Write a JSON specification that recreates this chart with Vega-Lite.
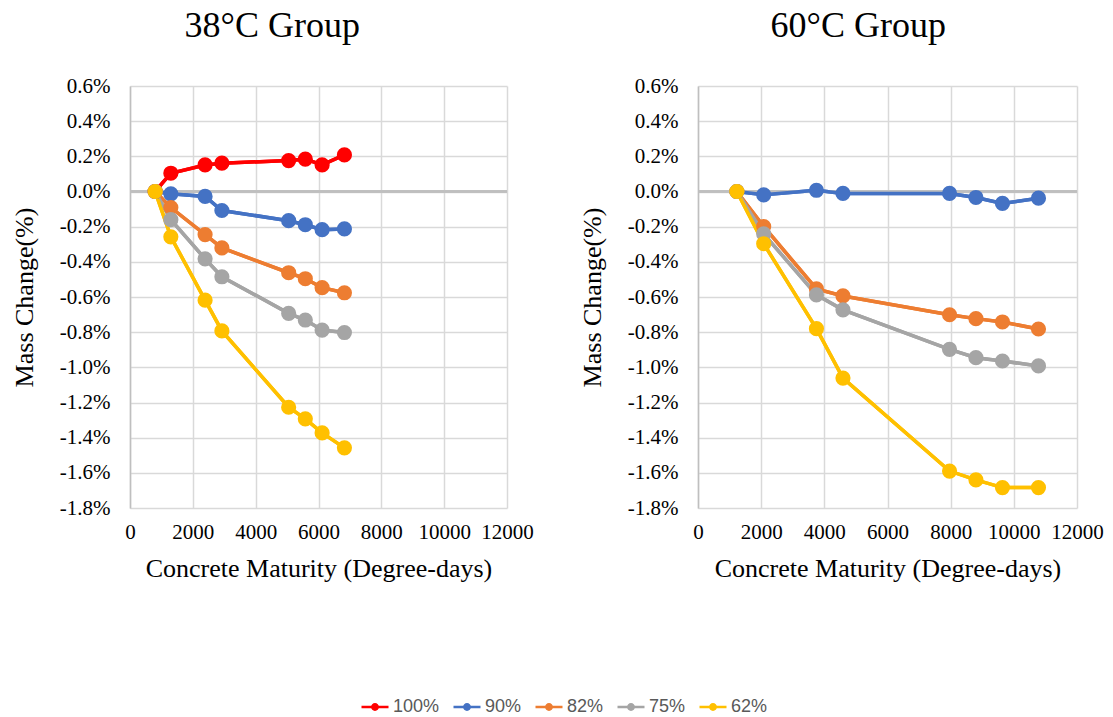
{
  "$schema": "https://vega.github.io/schema/vega-lite/v6.json",
  "padding": {"left": 11, "top": 8, "right": 0, "bottom": 0},
  "background": "white",
  "data": {
    "values": [
      {"group": "38", "series": "100%", "maturity": 800, "change": 0},
      {"group": "38", "series": "100%", "maturity": 1300, "change": 0.104},
      {"group": "38", "series": "100%", "maturity": 2390, "change": 0.151},
      {"group": "38", "series": "100%", "maturity": 2925, "change": 0.161},
      {"group": "38", "series": "100%", "maturity": 5050, "change": 0.176},
      {"group": "38", "series": "100%", "maturity": 5580, "change": 0.184},
      {"group": "38", "series": "100%", "maturity": 6115, "change": 0.151},
      {"group": "38", "series": "100%", "maturity": 6825, "change": 0.208},
      {"group": "38", "series": "90%", "maturity": 800, "change": 0},
      {"group": "38", "series": "90%", "maturity": 1300, "change": -0.013},
      {"group": "38", "series": "90%", "maturity": 2390, "change": -0.028},
      {"group": "38", "series": "90%", "maturity": 2925, "change": -0.108},
      {"group": "38", "series": "90%", "maturity": 5050, "change": -0.166},
      {"group": "38", "series": "90%", "maturity": 5580, "change": -0.189},
      {"group": "38", "series": "90%", "maturity": 6115, "change": -0.217},
      {"group": "38", "series": "90%", "maturity": 6825, "change": -0.213},
      {"group": "38", "series": "82%", "maturity": 800, "change": 0},
      {"group": "38", "series": "82%", "maturity": 1300, "change": -0.091},
      {"group": "38", "series": "82%", "maturity": 2390, "change": -0.245},
      {"group": "38", "series": "82%", "maturity": 2925, "change": -0.321},
      {"group": "38", "series": "82%", "maturity": 5050, "change": -0.462},
      {"group": "38", "series": "82%", "maturity": 5580, "change": -0.496},
      {"group": "38", "series": "82%", "maturity": 6115, "change": -0.547},
      {"group": "38", "series": "82%", "maturity": 6825, "change": -0.576},
      {"group": "38", "series": "75%", "maturity": 800, "change": 0},
      {"group": "38", "series": "75%", "maturity": 1300, "change": -0.160},
      {"group": "38", "series": "75%", "maturity": 2390, "change": -0.383},
      {"group": "38", "series": "75%", "maturity": 2925, "change": -0.485},
      {"group": "38", "series": "75%", "maturity": 5050, "change": -0.693},
      {"group": "38", "series": "75%", "maturity": 5580, "change": -0.731},
      {"group": "38", "series": "75%", "maturity": 6115, "change": -0.788},
      {"group": "38", "series": "75%", "maturity": 6825, "change": -0.802},
      {"group": "38", "series": "62%", "maturity": 800, "change": 0},
      {"group": "38", "series": "62%", "maturity": 1300, "change": -0.258},
      {"group": "38", "series": "62%", "maturity": 2390, "change": -0.618},
      {"group": "38", "series": "62%", "maturity": 2925, "change": -0.793},
      {"group": "38", "series": "62%", "maturity": 5050, "change": -1.227},
      {"group": "38", "series": "62%", "maturity": 5580, "change": -1.293},
      {"group": "38", "series": "62%", "maturity": 6115, "change": -1.373},
      {"group": "38", "series": "62%", "maturity": 6825, "change": -1.458},
      {"group": "60", "series": "90%", "maturity": 1230, "change": 0},
      {"group": "60", "series": "90%", "maturity": 2080, "change": -0.019},
      {"group": "60", "series": "90%", "maturity": 3750, "change": 0.007},
      {"group": "60", "series": "90%", "maturity": 4590, "change": -0.011},
      {"group": "60", "series": "90%", "maturity": 7965, "change": -0.011},
      {"group": "60", "series": "90%", "maturity": 8800, "change": -0.034},
      {"group": "60", "series": "90%", "maturity": 9640, "change": -0.068},
      {"group": "60", "series": "90%", "maturity": 10780, "change": -0.038},
      {"group": "60", "series": "82%", "maturity": 1230, "change": 0},
      {"group": "60", "series": "82%", "maturity": 2080, "change": -0.199},
      {"group": "60", "series": "82%", "maturity": 3750, "change": -0.554},
      {"group": "60", "series": "82%", "maturity": 4590, "change": -0.594},
      {"group": "60", "series": "82%", "maturity": 7965, "change": -0.701},
      {"group": "60", "series": "82%", "maturity": 8800, "change": -0.723},
      {"group": "60", "series": "82%", "maturity": 9640, "change": -0.742},
      {"group": "60", "series": "82%", "maturity": 10780, "change": -0.782},
      {"group": "60", "series": "75%", "maturity": 1230, "change": 0},
      {"group": "60", "series": "75%", "maturity": 2080, "change": -0.241},
      {"group": "60", "series": "75%", "maturity": 3750, "change": -0.588},
      {"group": "60", "series": "75%", "maturity": 4590, "change": -0.673},
      {"group": "60", "series": "75%", "maturity": 7965, "change": -0.898},
      {"group": "60", "series": "75%", "maturity": 8800, "change": -0.945},
      {"group": "60", "series": "75%", "maturity": 9640, "change": -0.964},
      {"group": "60", "series": "75%", "maturity": 10780, "change": -0.992},
      {"group": "60", "series": "62%", "maturity": 1230, "change": 0},
      {"group": "60", "series": "62%", "maturity": 2080, "change": -0.297},
      {"group": "60", "series": "62%", "maturity": 3750, "change": -0.780},
      {"group": "60", "series": "62%", "maturity": 4590, "change": -1.061},
      {"group": "60", "series": "62%", "maturity": 7965, "change": -1.590},
      {"group": "60", "series": "62%", "maturity": 8800, "change": -1.640},
      {"group": "60", "series": "62%", "maturity": 9640, "change": -1.684},
      {"group": "60", "series": "62%", "maturity": 10780, "change": -1.684}
    ]
  },
  "spacing": 45,
  "hconcat": [
    {
      "width": 377,
      "height": 422,
      "title": {"text": "38°C Group", "frame": "bounds", "anchor": "middle", "offset": 30, "dx": 0},
      "transform": [{"filter": "datum.group === '38'"}],
      "layer": [
        {
          "mark": {"type": "line", "strokeWidth": 3.5},
          "encoding": {
            "x": {
              "field": "maturity", "type": "quantitative",
              "scale": {"domain": [0, 12000], "nice": false, "zero": false},
              "axis": {"title": "Concrete Maturity (Degree-days)", "values": [0, 2000, 4000, 6000, 8000, 10000, 12000], "tickCount": 7, "format": "d", "labelOverlap": false, "labelFlush": false}
            },
            "y": {
              "field": "change", "type": "quantitative",
              "scale": {"domain": [-1.8, 0.6], "nice": false, "zero": false},
              "axis": {
                "title": "Mass Change(%)",
                "labelOverlap": false,
                "labelFlush": false,
                "tickCount": 13,
                "values": [-1.8, -1.6, -1.4, -1.2, -1.0, -0.8, -0.6, -0.4, -0.2, 0, 0.2, 0.4, 0.6],
                "labelExpr": "(datum.value < -0.001 ? '-' : '') + format(abs(datum.value), '.1f') + '%'"
              }
            },
            "color": {
              "field": "series", "type": "nominal",
              "scale": {"domain": ["100%", "90%", "82%", "75%", "62%"], "range": ["#FF0000", "#4472C4", "#ED7D31", "#A5A5A5", "#FFC000"]},
              "legend": {
                "orient": "none",
                "legendX": 230,
                "legendY": 606,
                "direction": "horizontal",
                "title": null,
                "padding": 0,
                "symbolType": "M-1,0L1,0M-0.2,0A0.2,0.2,0,1,1,0.2,0A0.2,0.2,0,1,1,-0.2,0Z",
                "symbolSize": 729,
                "symbolStrokeWidth": 2.5,
                "symbolOpacity": 1,
                "labelFont": "Liberation Sans",
                "labelFontSize": 18,
                "labelColor": "#595959",
                "labelOffset": 3,
                "columnPadding": 8,
                "encode": {
                  "symbols": {
                    "update": {
                      "stroke": {"scale": "color", "field": "value"},
                      "fill": {"scale": "color", "field": "value"},
                      "strokeWidth": {"value": 2.5}
                    }
                  }
                }
              }
            }
          }
        },
        {
          "mark": {"type": "rule", "color": "#BFBFBF", "strokeWidth": 1.5},
          "encoding": {"y": {"datum": 0}}
        },
        {
          "mark": {"type": "line", "strokeWidth": 3.5},
          "encoding": {
            "x": {"field": "maturity", "type": "quantitative"},
            "y": {"field": "change", "type": "quantitative"},
            "color": {"field": "series", "type": "nominal"}
          }
        },
        {
          "mark": {"type": "point", "filled": true, "opacity": 1, "size": 230},
          "encoding": {
            "x": {"field": "maturity", "type": "quantitative"},
            "y": {"field": "change", "type": "quantitative"},
            "color": {"field": "series", "type": "nominal"}
          }
        }
      ]
    },
    {
      "width": 379,
      "height": 422,
      "title": {"text": "60°C Group", "frame": "bounds", "anchor": "middle", "offset": 30, "dx": 17},
      "transform": [{"filter": "datum.group === '60'"}],
      "layer": [
        {
          "mark": {"type": "line", "strokeWidth": 3.5},
          "encoding": {
            "x": {
              "field": "maturity", "type": "quantitative",
              "scale": {"domain": [0, 12000], "nice": false, "zero": false},
              "axis": {"title": "Concrete Maturity (Degree-days)", "values": [0, 2000, 4000, 6000, 8000, 10000, 12000], "tickCount": 7, "format": "d", "labelOverlap": false, "labelFlush": false}
            },
            "y": {
              "field": "change", "type": "quantitative",
              "scale": {"domain": [-1.8, 0.6], "nice": false, "zero": false},
              "axis": {
                "title": "Mass Change(%)",
                "labelOverlap": false,
                "labelFlush": false,
                "tickCount": 13,
                "values": [-1.8, -1.6, -1.4, -1.2, -1.0, -0.8, -0.6, -0.4, -0.2, 0, 0.2, 0.4, 0.6],
                "labelExpr": "(datum.value < -0.001 ? '-' : '') + format(abs(datum.value), '.1f') + '%'"
              }
            },
            "color": {"field": "series", "type": "nominal"}
          }
        },
        {
          "mark": {"type": "rule", "color": "#BFBFBF", "strokeWidth": 1.5},
          "encoding": {"y": {"datum": 0}}
        },
        {
          "mark": {"type": "line", "strokeWidth": 3.5},
          "encoding": {
            "x": {"field": "maturity", "type": "quantitative"},
            "y": {"field": "change", "type": "quantitative"},
            "color": {"field": "series", "type": "nominal"}
          }
        },
        {
          "mark": {"type": "point", "filled": true, "opacity": 1, "size": 230},
          "encoding": {
            "x": {"field": "maturity", "type": "quantitative"},
            "y": {"field": "change", "type": "quantitative"},
            "color": {"field": "series", "type": "nominal"}
          }
        }
      ]
    }
  ],
  "resolve": {"scale": {"color": "shared"}},
  "config": {
    "view": {"stroke": null},
    "title": {"font": "Liberation Serif", "fontSize": 36, "fontWeight": "normal", "color": "#000000"},
    "axis": {
      "labelFont": "Liberation Serif",
      "labelFontSize": 21,
      "labelColor": "#000000",
      "titleFont": "Liberation Serif",
      "titleFontSize": 26,
      "titleFontWeight": "normal",
      "titleColor": "#000000",
      "ticks": false,
      "tickSize": 0,
      "gridColor": "#D9D9D9",
      "gridWidth": 1.5,
      "labelOverlap": false
    },
    "axisX": {"domain": false, "labelPadding": 13, "titlePadding": 13},
    "axisY": {"domain": true, "domainColor": "#BFBFBF", "domainWidth": 1.5, "labelPadding": 20, "titlePadding": 22}
  }
}
